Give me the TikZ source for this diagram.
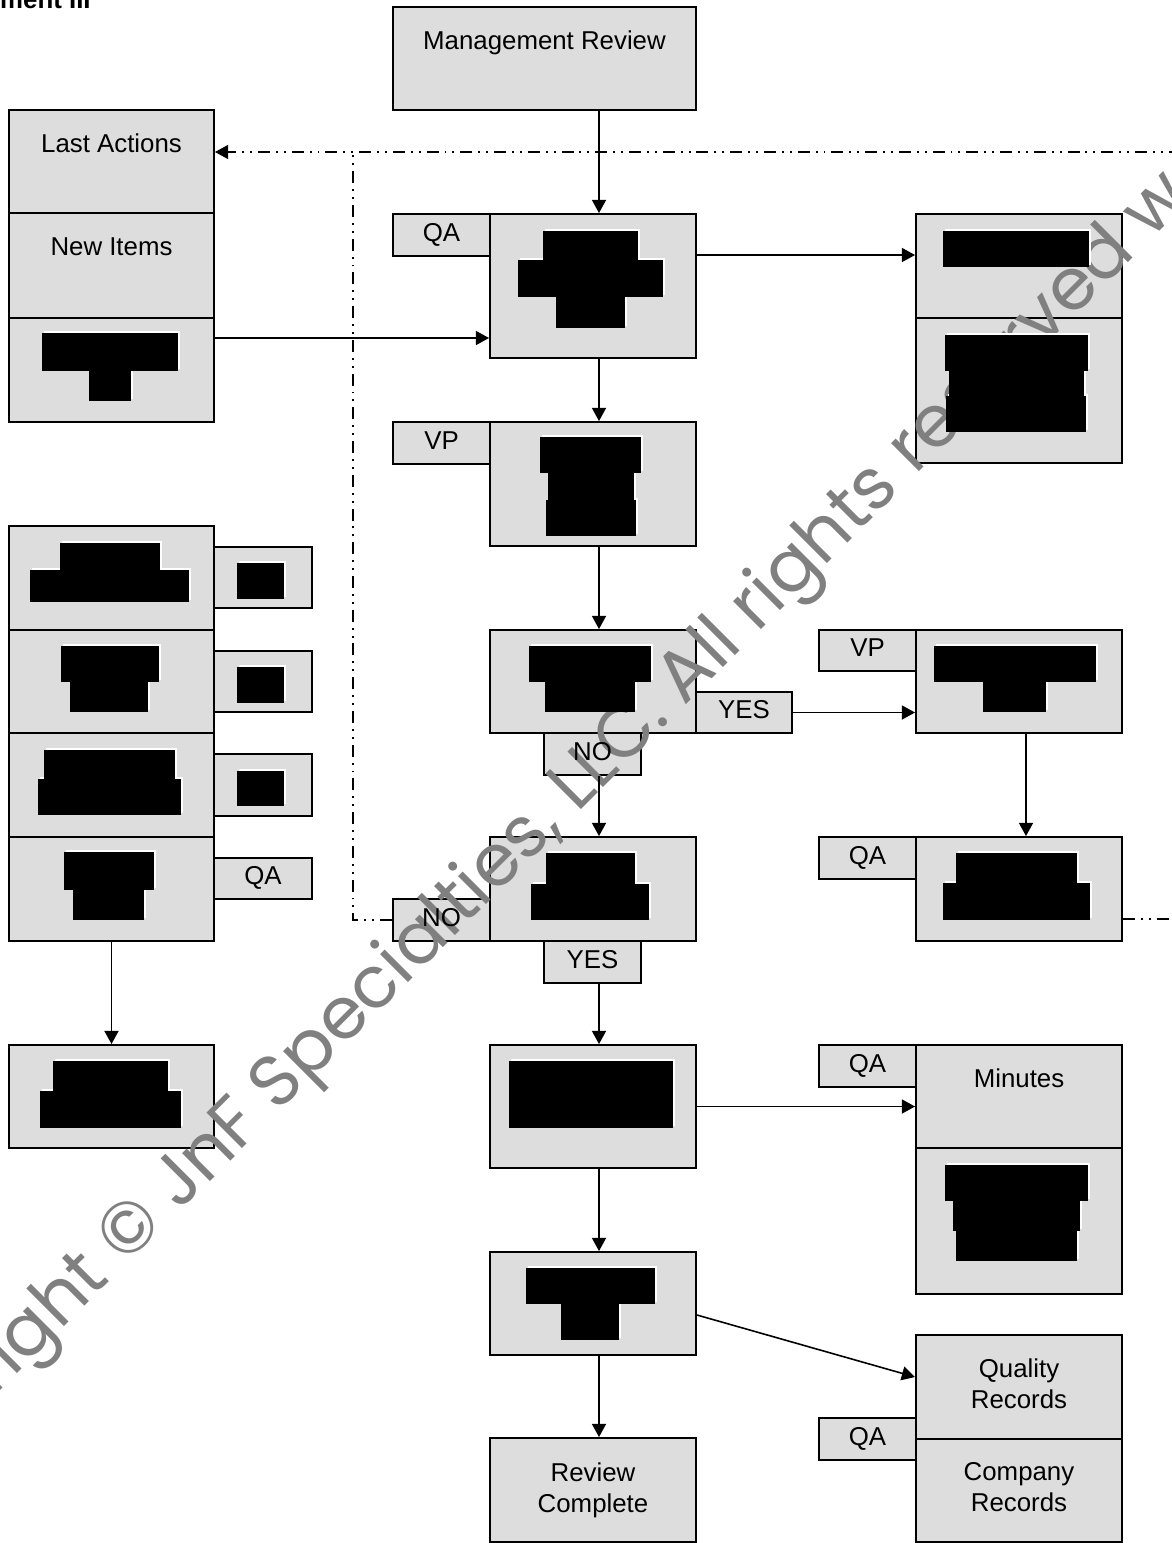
\documentclass[tikz,border=0pt]{standalone}
\usepackage{fontspec}
\setmainfont{Liberation Sans}
\newfontfamily\wmfont{Poppins}
\usetikzlibrary{arrows.meta}
\definecolor{boxgray}{RGB}{221,221,221}
\definecolor{wmgray}{RGB}{128,128,128}
\tikzset{
  box/.style={draw=black, fill=boxgray, line width=1.1pt, inner sep=0pt},
  lbl/.style={inner sep=0pt, font=\fontsize{14.7pt}{17.9pt}\selectfont, align=center},
  taglbl/.style={lbl, text height=0.72em, text depth=0pt},
  arr/.style={line width=0.9pt, -{Triangle[length=7.5pt,width=8pt]}},
  dashdot/.style={line width=0.6pt, dash pattern=on 6.8pt off 3.4pt on 1.1pt off 3.4pt on 1.1pt off 3.4pt},
}
\newcommand\bx[5]{\node[box,minimum width={(#4-#2)*0.02cm},minimum height={(#5-#3)*0.02cm}] (#1) at ({(#2+#4)/2},{(#3+#5)/2}) {};}
\newcommand\tg[2]{\node[taglbl] (#1-t) at (#1) {#2};}
\begin{document}
\begin{tikzpicture}[x=0.02cm,y=-0.02cm]
\useasboundingbox (0,0) rectangle (1172,1543);
\clip (0,0) rectangle (1172,1543);

% header fragment
\node[inner sep=0pt, anchor=base east, font=\fontsize{14.7pt}{17.9pt}\selectfont\bfseries] (hdr) at (91,8) {ment III};

% helper coordinates
\coordinate (cx) at (599,0);
\coordinate (cr2) at (1026,0);
\coordinate (ya) at (0,338);
\coordinate (yb) at (0,255);
\coordinate (yc) at (0,1315);
\coordinate (yd) at (0,1377);
\coordinate (dl) at (353,920);
\coordinate (dtop) at (353,152);
\coordinate (dr) at (1190,919);
\coordinate (drtop) at (1190,152);

% main column
\bx{mr}{393}{7}{696}{110}
\bx{b1}{490}{214}{696}{358}
\bx{b1tag}{393}{214}{490}{256}
\bx{b2}{490}{422}{696}{546}
\bx{b2tag}{393}{422}{490}{464}
\bx{b3}{490}{630}{696}{733}
\bx{yes1}{696}{692}{792}{733}
\bx{no1}{544}{733}{641}{775}
\bx{b4}{490}{837}{696}{941}
\bx{no2}{393}{899}{490}{941}
\bx{yes2}{544}{941}{641}{983}
\bx{b5}{490}{1045}{696}{1168}
\bx{b6}{490}{1252}{696}{1355}
\bx{rc}{490}{1438}{696}{1542}

% left column
\bx{la}{9}{110}{214}{213}
\bx{ni}{9}{213}{214}{318}
\bx{lr}{9}{318}{214}{422}
\bx{s1}{9}{526}{214}{630}
\bx{s2}{9}{630}{214}{733}
\bx{s3}{9}{733}{214}{837}
\bx{s4}{9}{837}{214}{941}
\bx{t1}{214}{547}{312}{608}
\bx{t2}{214}{651}{312}{712}
\bx{t3}{214}{754}{312}{816}
\bx{t4}{214}{858}{312}{899}
\bx{ll}{9}{1045}{214}{1148}

% right column
\bx{r1a}{916}{214}{1122}{318}
\bx{r1b}{916}{318}{1122}{463}
\bx{r2}{916}{630}{1122}{733}
\bx{r2tag}{819}{630}{916}{671}
\bx{r3}{916}{837}{1122}{941}
\bx{r3tag}{819}{837}{916}{879}
\bx{mi}{916}{1045}{1122}{1148}
\bx{mil}{916}{1148}{1122}{1294}
\bx{mitag}{819}{1045}{916}{1087}
\bx{qr}{916}{1335}{1122}{1439}
\bx{cr}{916}{1439}{1122}{1542}
\bx{qrtag}{819}{1418}{916}{1460}

% watermark (over fills, under texts)
\node[rotate=45, inner sep=0pt, text=wmgray, font=\wmfont\fontsize{41pt}{45pt}\selectfont] (wm) at (623,743) {Copyright © JnF Specialties, LLC. All rights reserved worldwide};

% texts
\node[lbl, anchor=base] (mr-t) at (544.5,49) {Management Review};
\node[lbl, anchor=base] (la-t) at (111.5,152) {Last Actions};
\node[lbl, anchor=base] (ni-t) at (111.5,255) {New Items};
\node[lbl, anchor=base] (mi-t) at (1019,1087) {Minutes};
\node[lbl, anchor=north] (qr-t) at (1019,1358) {Quality\\Records};
\node[lbl, anchor=north] (cr-t) at (1019,1462) {Company\\Records};
\node[lbl, anchor=north] (rc-t) at (593,1462) {Review\\Complete};
\tg{b1tag}{QA}
\tg{b2tag}{VP}
\tg{yes1}{YES}
\tg{no1}{NO}
\tg{no2}{NO}
\tg{yes2}{YES}
\tg{t4}{QA}
\tg{r2tag}{VP}
\tg{r3tag}{QA}
\tg{mitag}{QA}
\tg{qrtag}{QA}

% redactions
\def\redlist{42/333/178/371, 89/371/131/401,
 543/231/638/260, 518/260/663/297, 556/297/625/328,
 943/231/1089/267,
 945/335/1088/371, 949/371/1084/396, 946/396/1086/432,
 540/437/641/473, 548/473/634/500, 546/500/636/536,
 60/543/160/570, 30/570/189/602, 237/563/284/599,
 61/646/159/682, 70/682/148/712, 237/667/284/703,
 44/750/175/779, 38/779/181/815, 237/771/284/806,
 64/852/154/890, 73/890/144/920,
 529/646/651/682, 545/682/635/712,
 934/646/1096/682, 983/682/1046/712,
 546/853/635/884, 531/884/649/920,
 956/853/1077/883, 943/883/1090/920,
 53/1061/168/1091, 40/1091/181/1128,
 509/1061/673/1128,
 945/1165/1088/1201, 953/1201/1080/1231, 956/1231/1077/1261,
 526/1268/655/1304, 561/1304/619/1340}
\foreach \a/\b/\c/\d in \redlist {\fill[white] (\a+2,\b-2) rectangle (\c+2,\d-2);}
\foreach \a/\b/\c/\d in \redlist {\fill[black] (\a,\b) rectangle (\c,\d);}

% connectors
\draw[arr] (mr.south -| cx) -- (b1.north -| cx);
\draw[arr] (b1.south -| cx) -- (b2.north -| cx);
\draw[arr] (b2.south -| cx) -- (b3.north -| cx);
\draw[arr] (no1.south -| cx) -- (b4.north -| cx);
\draw[arr] (yes2.south -| cx) -- (b5.north -| cx);
\draw[arr] (b5.south -| cx) -- (b6.north -| cx);
\draw[arr] (b6.south -| cx) -- (rc.north -| cx);
\draw[arr] (lr.east |- ya) -- (b1.west |- ya);
\draw[arr] (b1.east |- yb) -- (r1a.west |- yb);
\draw[arr] (yes1.east) -- (yes1.east -| r2.west);
\draw[arr] (r2.south -| cr2) -- (r3.north -| cr2);
\draw[arr] (b5.east) -- (b5.east -| mi.west);
\draw[arr] (b6.east |- yc) -- (qr.west |- yd);
\draw[arr] (s4.south) -- (ll.north);

% dash-dot loop
\draw[dashdot] (no2.west) -- (dl) -- (dtop);
\draw[dashdot, -{Triangle[length=7.5pt,width=8pt]}] (r3.east |- dr) -- (dr) -- (drtop) -- (la.east |- drtop);
\end{tikzpicture}
\end{document}
